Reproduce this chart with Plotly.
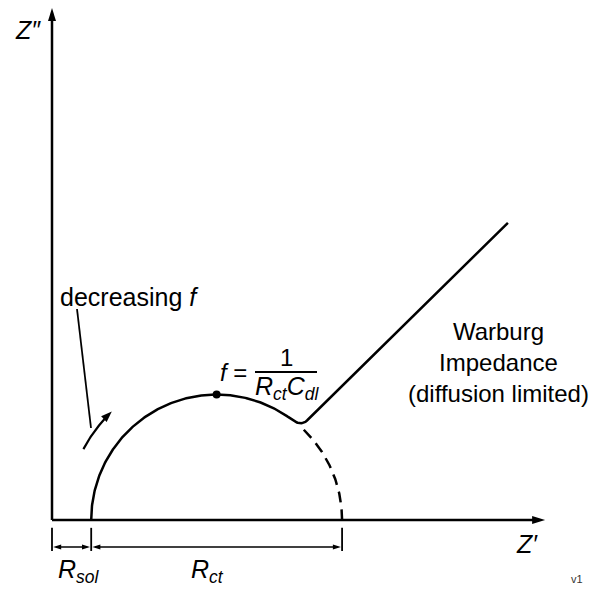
import numpy as np
import plotly.graph_objects as go

W, H = 595, 590
S = 39.2            # pixels per impedance unit
X0_PX, Y0_PX = 52, 520

# --- diagram values (impedance units) ---
R_sol = 1.0
R_ct = 6.4
theta_join_deg = 48.0          # where the Warburg line leaves the semicircle
warburg_end = [11.63, 7.58]
z_real_axis_end = 12.58
z_imag_axis_end = 13.06
dim_line_y = -0.69
dim_tick = [-0.20, -0.79]
decr_arrow_radius = 3.85
decr_arrow_deg = [152, 137, 134]

FONT = "Liberation Sans, Arial, sans-serif"
LW = 2.5

xc = R_sol + R_ct / 2
r = R_ct / 2


def arc(deg):
    t = np.radians(deg)
    return xc + r * np.cos(t), r * np.sin(t)


def head_path(tip, ang_deg, length_px, width_px):
    a = np.radians(ang_deg)
    L, Wd = length_px / S, width_px / S / 2
    tx, ty = tip
    bx, by = tx - L * np.cos(a), ty - L * np.sin(a)
    nx, ny = -np.sin(a), np.cos(a)
    return (f"M{tx},{ty} L{bx + nx * Wd},{by + ny * Wd} "
            f"L{bx - nx * Wd},{by - ny * Wd} Z")


fig = go.Figure()

# solid part of semicircle + rounded join into Warburg line
th = np.linspace(180, theta_join_deg + 6, 200)
sx, sy = arc(th)
cx, cy = arc(theta_join_deg)
dx, dy = warburg_end[0] - cx, warburg_end[1] - cy
dn = np.hypot(dx, dy)
bx, by = cx + dx / dn * 9 / S, cy + dy / dn * 9 / S
ax_, ay_ = sx[-1], sy[-1]
tt = np.linspace(0, 1, 24)
fx = (1 - tt) ** 2 * ax_ + 2 * (1 - tt) * tt * cx + tt ** 2 * bx
fy = (1 - tt) ** 2 * ay_ + 2 * (1 - tt) * tt * cy + tt ** 2 * by
px_ = np.concatenate([sx, fx, [warburg_end[0]]])
py_ = np.concatenate([sy, fy, [warburg_end[1]]])
fig.add_trace(go.Scatter(x=px_, y=py_, mode="lines",
                         line=dict(color="black", width=LW), hoverinfo="skip"))

# dashed continuation of semicircle
th2 = np.linspace(theta_join_deg - 2, 0, 100)
dxs, dys = arc(th2)
fig.add_trace(go.Scatter(x=dxs, y=dys, mode="lines",
                         line=dict(color="black", width=LW, dash="11px,7px"),
                         hoverinfo="skip"))

# dot at top
fig.add_trace(go.Scatter(x=[xc], y=[r], mode="markers",
                         marker=dict(color="black", size=8), hoverinfo="skip"))

# curved "decreasing f" arrow
th3 = np.linspace(decr_arrow_deg[0], decr_arrow_deg[1], 40)
t3 = np.radians(th3)
fig.add_trace(go.Scatter(x=xc + decr_arrow_radius * np.cos(t3),
                         y=decr_arrow_radius * np.sin(t3), mode="lines",
                         line=dict(color="black", width=2.2), hoverinfo="skip"))
tip_t = np.radians(decr_arrow_deg[2])
tip = (xc + decr_arrow_radius * np.cos(tip_t), decr_arrow_radius * np.sin(tip_t))

shapes = []
shapes.append(dict(type="path", xref="x", yref="y",
                   path=head_path(tip, decr_arrow_deg[2] - 90, 11, 8),
                   fillcolor="black", line=dict(width=0)))

# axes
shapes.append(dict(type="line", xref="x", yref="y", x0=0, y0=0, x1=z_real_axis_end - 0.2, y1=0,
                   line=dict(color="black", width=LW)))
shapes.append(dict(type="line", xref="x", yref="y", x0=0, y0=0, x1=0, y1=z_imag_axis_end - 0.2,
                   line=dict(color="black", width=LW)))
shapes.append(dict(type="path", xref="x", yref="y",
                   path=head_path((z_real_axis_end, 0), 0, 13, 8),
                   fillcolor="black", line=dict(width=0)))
shapes.append(dict(type="path", xref="x", yref="y",
                   path=head_path((0, z_imag_axis_end), 90, 13, 8),
                   fillcolor="black", line=dict(width=0)))

# dimension lines
ticks_x = [0, R_sol, R_sol + R_ct]
for tx in ticks_x:
    shapes.append(dict(type="line", xref="x", yref="y", x0=tx, x1=tx,
                       y0=dim_tick[0], y1=dim_tick[1],
                       line=dict(color="black", width=1.8)))
for a, b in [(ticks_x[0], ticks_x[1]), (ticks_x[1], ticks_x[2])]:
    shapes.append(dict(type="line", xref="x", yref="y", x0=a + 0.1, x1=b - 0.1,
                       y0=dim_line_y, y1=dim_line_y,
                       line=dict(color="black", width=1.5)))
    shapes.append(dict(type="path", xref="x", yref="y",
                       path=head_path((b - 0.03, dim_line_y), 0, 8, 5),
                       fillcolor="black", line=dict(width=0)))
    shapes.append(dict(type="path", xref="x", yref="y",
                       path=head_path((a + 0.03, dim_line_y), 180, 8, 5),
                       fillcolor="black", line=dict(width=0)))

# pointer line from label to curved arrow
shapes.append(dict(type="line", xref="paper", yref="paper",
                   x0=77 / W, y0=1 - 309 / H, x1=91 / W, y1=1 - 428 / H,
                   line=dict(color="black", width=1.8)))
# fraction bar
shapes.append(dict(type="line", xref="paper", yref="paper",
                   x0=255 / W, y0=1 - 372 / H, x1=317 / W, y1=1 - 372 / H,
                   line=dict(color="black", width=1.8)))

annotations = []


def txt(px, py, text, size=24, xanchor="center", color="black"):
    annotations.append(dict(x=px / W, y=1 - py / H, xref="paper", yref="paper",
                            text=text, showarrow=False, xanchor=xanchor,
                            yanchor="middle",
                            font=dict(family=FONT, size=size, color=color)))


txt(28, 30, "<i>Z″</i>", 25)
txt(527, 544, "<i>Z′</i>", 25)
txt(58, 297, "decreasing <i>f</i>", 25, xanchor="left")
txt(233, 372, "<i>f</i> =", 24)
txt(286, 357, "1", 24)
txt(287, 388, "<i>R<sub>ct</sub>C<sub>dl</sub></i>", 25)
txt(498, 362, "Warburg<br>Impedance<br>(diffusion limited)", 24)
txt(79, 571, "<i>R<sub>sol</sub></i>", 25)
txt(207, 571, "<i>R<sub>ct</sub></i>", 25)
txt(577, 579, "v1", 11, color="#333333")

fig.update_layout(
    width=W, height=H, margin=dict(l=0, r=0, t=0, b=0, pad=0),
    paper_bgcolor="white", plot_bgcolor="white", showlegend=False,
    xaxis=dict(range=[-X0_PX / S, (W - X0_PX) / S], visible=False, fixedrange=True),
    yaxis=dict(range=[-(H - Y0_PX) / S, Y0_PX / S], visible=False, fixedrange=True),
    shapes=shapes, annotations=annotations,
)

fig.write_html("out.html")
